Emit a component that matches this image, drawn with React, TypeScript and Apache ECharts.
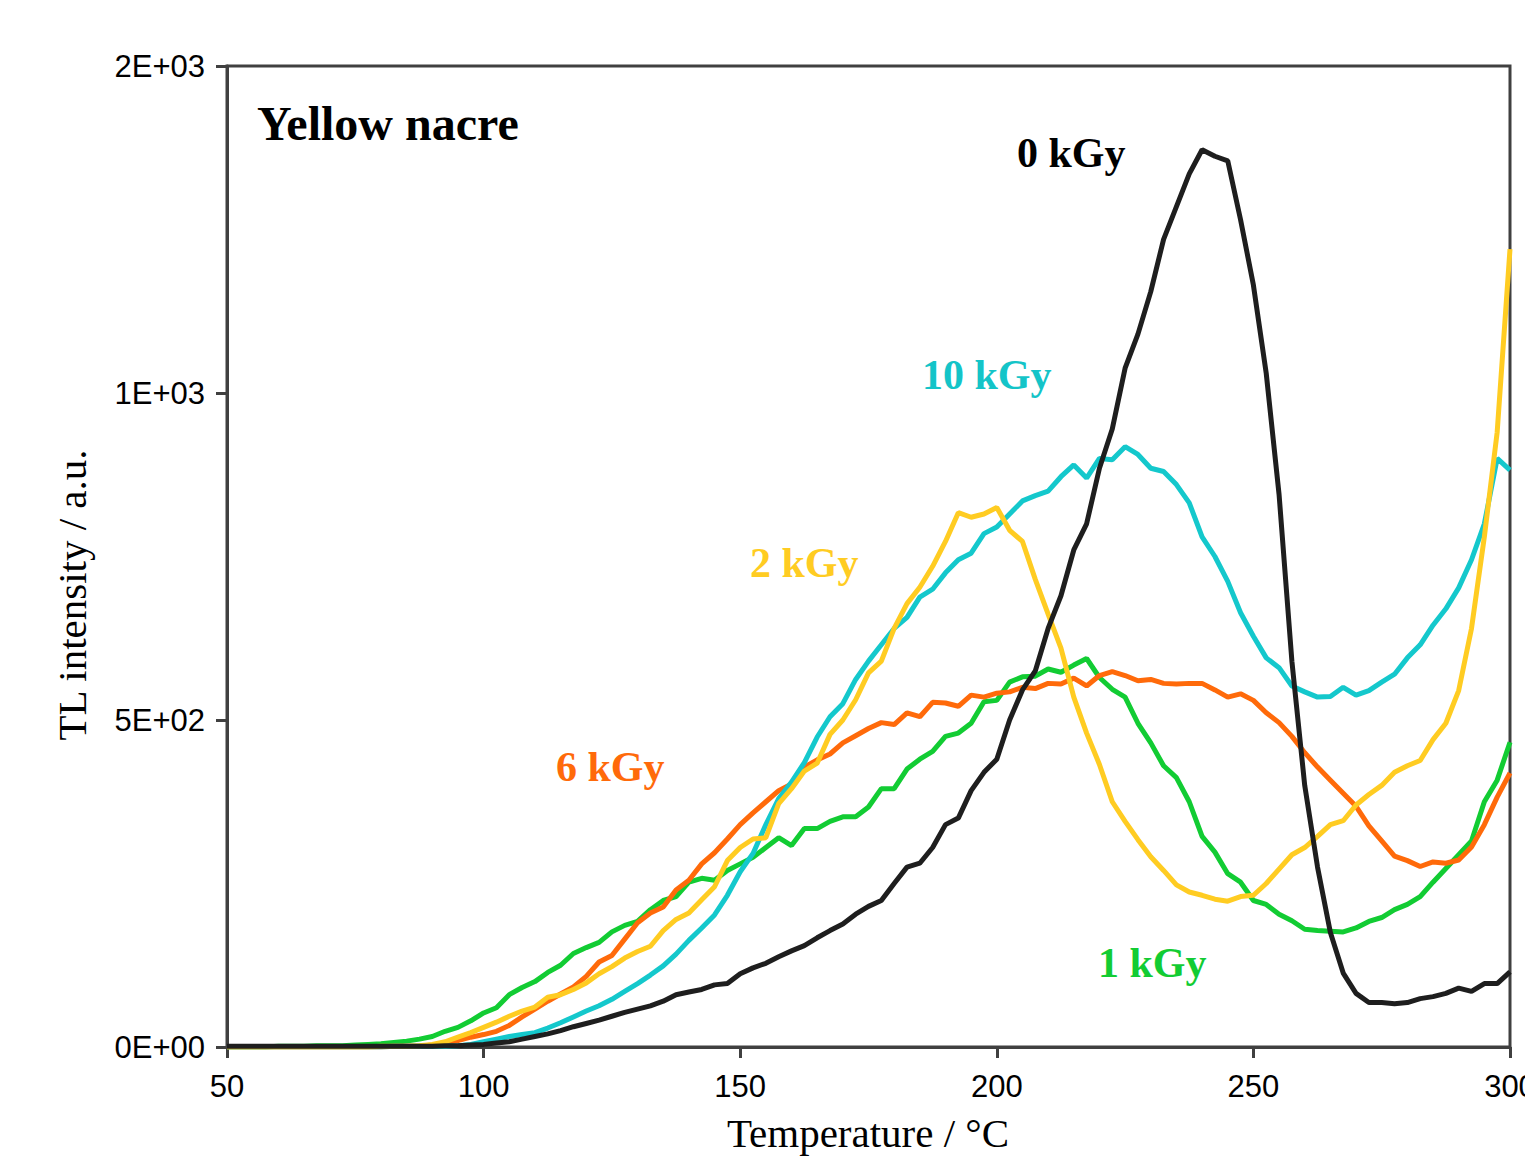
import React, { useEffect, useRef } from "react";
import * as echarts from "echarts";

const temperatures = [
  50, 52.5, 55, 57.5, 60, 62.5, 65, 67.5, 70, 72.5, 75, 77.5, 80, 82.5, 85, 87.5, 90, 92.5, 95, 97.5,
  100, 102.5, 105, 107.5, 110, 112.5, 115, 117.5, 120, 122.5, 125, 127.5, 130, 132.5, 135, 137.5, 140, 142.5, 145, 147.5,
  150, 152.5, 155, 157.5, 160, 162.5, 165, 167.5, 170, 172.5, 175, 177.5, 180, 182.5, 185, 187.5, 190, 192.5, 195, 197.5,
  200, 202.5, 205, 207.5, 210, 212.5, 215, 217.5, 220, 222.5, 225, 227.5, 230, 232.5, 235, 237.5, 240, 242.5, 245, 247.5,
  250, 252.5, 255, 257.5, 260, 262.5, 265, 267.5, 270, 272.5, 275, 277.5, 280, 282.5, 285, 287.5, 290, 292.5, 295, 297.5,
  300,
];

const dose0kGy = [
  1, 1, 1, 1, 1, 1, 1, 1, 1, 1, 1, 1, 1, 1, 1, 1, 1, 2, 2, 3,
  4, 6, 8, 12, 16, 20, 25, 31, 36, 41, 47, 53, 58, 63, 70, 80, 84, 88, 95, 97,
  112, 121, 128, 138, 147, 155, 167, 178, 188, 203, 215, 224, 250, 275, 281, 305, 340, 350, 392, 420,
  440, 500, 546, 575, 640, 690, 760, 800, 885, 945, 1038, 1090, 1155, 1235, 1285, 1335, 1372, 1362, 1355, 1265,
  1165, 1030, 845, 590, 400, 275, 175, 113, 82, 68, 68, 66, 68, 74, 77, 82, 90, 85, 97, 97,
  115,
];

const dose1kGy = [
  0, 0, 0, 0, 1, 1, 1, 2, 2, 2, 3, 4, 5, 7, 9, 12, 16, 24, 30, 40,
  52, 60, 80, 91, 100, 114, 125, 143, 152, 160, 176, 186, 192, 210, 224, 230, 252, 258, 255, 270,
  280, 290, 305, 320, 308, 334, 334, 345, 352, 352, 367, 395, 395, 425, 440, 452, 475, 480, 495, 528,
  530, 558, 566, 567, 578, 573, 584, 594, 565, 547, 535, 495, 465, 430, 412, 375, 322, 298, 265, 252,
  224, 218, 203, 193, 180, 178, 177, 176, 182, 192, 198, 210, 218, 230, 252, 273, 294, 315, 375, 408,
  466,
];

const dose2kGy = [
  0, 0, 0, 0, 0, 0, 0, 0, 0, 0, 0, 0, 1, 1, 1, 2, 4, 8, 15, 22,
  30, 38, 47, 55, 61, 76, 80, 88, 98, 112, 123, 136, 146, 154, 178, 195, 205, 225, 245, 285,
  305, 318, 320, 372, 395, 422, 434, 478, 500, 531, 572, 590, 640, 678, 703, 735, 773, 817, 810, 815,
  825, 790, 773, 715, 662, 610, 535, 480, 432, 375, 345, 317, 291, 270, 248, 237, 232, 226, 223, 230,
  232, 250, 272, 294, 305, 322, 340, 346, 370, 386, 400, 420, 430, 438, 470, 495, 545, 640, 780, 940,
  1220,
];

const dose6kGy = [
  0, 0, 0, 0, 0, 0, 0, 0, 0, 0, 0, 0, 0, 1, 1, 1, 3, 6, 10, 15,
  19, 24, 33, 46, 58, 70, 81, 92, 108, 130, 140, 165, 190, 205, 214, 240, 255, 280, 297, 318,
  340, 358, 375, 392, 402, 428, 439, 448, 465, 476, 487, 496, 493, 511, 505, 527, 526, 521, 538, 535,
  541, 543, 550, 548, 556, 555, 564, 552, 568, 574, 568, 560, 562, 556, 555, 556, 556, 546, 535, 540,
  530, 511, 496, 475, 450, 428, 408, 388, 368, 338, 315, 292, 285, 276, 283, 281, 286, 306, 340, 382,
  419,
];

const dose10kGy = [
  0, 0, 0, 0, 0, 0, 0, 0, 0, 0, 0, 0, 0, 1, 1, 1, 1, 1, 2, 4,
  8, 12, 16, 19, 22, 29, 37, 46, 55, 63, 73, 85, 97, 110, 124, 142, 163, 182, 202, 232,
  268, 296, 340, 380, 405, 435, 474, 505, 525, 562, 590, 615, 640, 657, 688, 700, 725, 745, 755, 785,
  795, 815, 835, 843, 850, 872, 890, 870, 900, 898, 918, 906, 885, 880, 860, 832, 780, 750, 712, 664,
  628, 595, 580, 552, 543, 535, 536, 550, 538, 545, 558, 570, 595, 615, 645, 670, 702, 745, 800, 900,
  882,
];

const xTicks = [50, 100, 150, 200, 250, 300];
const yTicks = [0, 500, 1000, 1500];

const seriesDefs = [
  { name: "1 kGy", values: dose1kGy, color: "#12cc33" },
  { name: "6 kGy", values: dose6kGy, color: "#ff6a0a" },
  { name: "10 kGy", values: dose10kGy, color: "#14c8cc" },
  { name: "2 kGy", values: dose2kGy, color: "#ffcc22" },
  { name: "0 kGy", values: dose0kGy, color: "#1e1e1e" },
];

const labels = [
  { text: "0 kGy", x: 1017, y: 153, color: "#000000" },
  { text: "10 kGy", x: 922, y: 375, color: "#14c4c8" },
  { text: "2 kGy", x: 750, y: 563, color: "#ffcc22" },
  { text: "6 kGy", x: 556, y: 767, color: "#ff6a0a" },
  { text: "1 kGy", x: 1098, y: 963, color: "#12cc33" },
];

const SERIF = '"Liberation Serif", "Times New Roman", serif';
const SANS = '"Liberation Sans", Arial, sans-serif';
const AXIS_COLOR = "#404040";

// Excel-style "0E+00" format (mantissa rounded to an integer)
function sci(v: number): string {
  if (v === 0) return "0E+00";
  const e = Math.floor(Math.log10(v) + 1e-9);
  const m = Math.round(v / Math.pow(10, e));
  return `${m}E+${String(e).padStart(2, "0")}`;
}

export default function App() {
  const ref = useRef<HTMLDivElement>(null);

  useEffect(() => {
    if (!ref.current) return;
    const chart = echarts.init(ref.current, null, { renderer: "svg" });
    chart.setOption({
      animation: false,
      backgroundColor: "#ffffff",
      grid: {
        left: 227,
        right: 15,
        top: 66,
        bottom: 114,
        containLabel: false,
        outerBoundsMode: "none",
        show: true,
        borderColor: AXIS_COLOR,
        borderWidth: 3,
        backgroundColor: "transparent",
      },
      xAxis: {
        type: "value",
        min: 50,
        max: 300,
        interval: 50,
        axisLine: { show: true, onZero: false, lineStyle: { color: AXIS_COLOR, width: 3 } },
        axisTick: {
          show: true,
          length: 11,
          customValues: xTicks,
          lineStyle: { color: AXIS_COLOR, width: 3 },
        },
        axisLabel: {
          customValues: xTicks,
          margin: 24,
          fontFamily: SANS,
          fontSize: 31,
          color: "#000000",
          hideOverlap: false,
        },
        splitLine: { show: false },
      },
      yAxis: {
        type: "value",
        min: 0,
        max: 1500,
        interval: 500,
        axisLine: { show: true, lineStyle: { color: AXIS_COLOR, width: 3 } },
        axisTick: {
          show: true,
          length: 11,
          customValues: yTicks,
          lineStyle: { color: AXIS_COLOR, width: 3 },
        },
        axisLabel: {
          customValues: yTicks,
          margin: 22,
          fontFamily: SANS,
          fontSize: 31,
          color: "#000000",
          formatter: (v: number) => sci(v),
        },
        splitLine: { show: false },
      },
      series: seriesDefs.map((s) => ({
        name: s.name,
        type: "line",
        showSymbol: false,
        symbol: "none",
        data: temperatures.map((t, i) => [t, s.values[i]]),
        lineStyle: { color: s.color, width: 5 },
        itemStyle: { color: s.color },
        clip: true,
      })),
      graphic: [
        {
          type: "text",
          x: 257,
          y: 123,
          style: {
            text: "Yellow nacre",
            font: `bold 48px ${SERIF}`,
            fill: "#000000",
            textAlign: "left",
            textVerticalAlign: "middle",
          },
        },
        ...labels.map((l) => ({
          type: "text",
          x: l.x,
          y: l.y,
          style: {
            text: l.text,
            font: `bold 42px ${SERIF}`,
            fill: l.color,
            textAlign: "left",
            textVerticalAlign: "middle",
          },
        })),
        {
          type: "text",
          x: 868,
          y: 1133,
          style: {
            text: "Temperature / °C",
            font: `41px ${SERIF}`,
            fill: "#000000",
            textAlign: "center",
            textVerticalAlign: "middle",
          },
        },
        {
          type: "text",
          x: 72,
          y: 595,
          rotation: Math.PI / 2,
          style: {
            text: "TL intensity / a.u.",
            font: `41px ${SERIF}`,
            fill: "#000000",
            textAlign: "center",
            textVerticalAlign: "middle",
          },
        },
      ],
    });
    return () => chart.dispose();
  }, []);

  return (
    <div
      ref={ref}
      style={{ position: "fixed", left: 0, top: 0, width: 1525, height: 1161, background: "#fff" }}
    />
  );
}
